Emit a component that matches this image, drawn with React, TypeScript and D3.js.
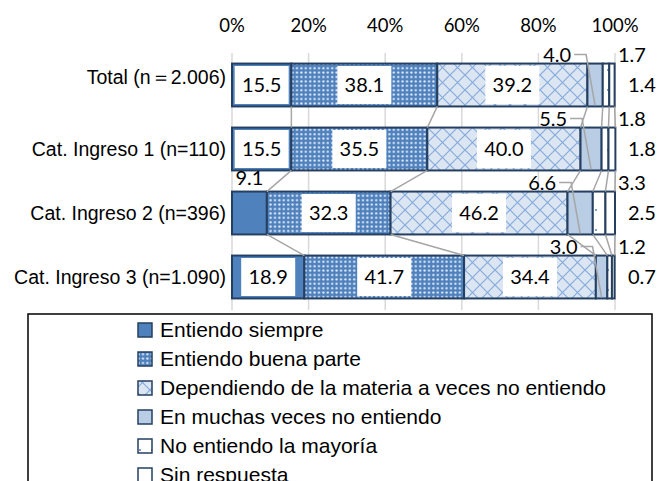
import React from 'react';
import * as d3 from 'd3';

const categories = [
  'Total (n＝2.006)',
  'Cat. Ingreso 1 (n=110)',
  'Cat. Ingreso 2 (n=396)',
  'Cat. Ingreso 3 (n=1.090)',
];

const seriesNames = [
  'Entiendo siempre',
  'Entiendo buena parte',
  'Dependiendo de la materia a veces no entiendo',
  'En muchas veces no entiendo',
  'No entiendo la mayoría',
  'Sin respuesta',
];

const siempre = [15.5, 15.5, 9.1, 18.9];
const buenaParte = [38.1, 35.5, 32.3, 41.7];
const dependiendo = [39.2, 40.0, 46.2, 34.4];
const muchasVeces = [4.0, 5.5, 6.6, 3.0];
const mayoria = [1.7, 1.8, 3.3, 1.2];
const sinRespuesta = [1.4, 1.8, 2.5, 0.7];

const xTicks = [0, 20, 40, 60, 80, 100];

const W = 657;
const H = 481;
const fills = ['#4f81bd', 'url(#pDots)', 'url(#pCross)', '#b9cde5', 'url(#pSparse)', '#ffffff'];
const border = '#243f60';
const valueFont = 'Lato, "Open Sans", sans-serif';
const textFont = '"Liberation Sans", Arial, sans-serif';

export default function App() {
  const allSeries = [siempre, buenaParte, dependiendo, muchasVeces, mayoria, sinRespuesta];
  const rows = categories.map((c, i) => {
    const r: any = { cat: c };
    seriesNames.forEach((s, k) => (r[s] = allSeries[k][i]));
    return r;
  });
  const stacked = d3.stack().keys(seriesNames)(rows);

  const x = d3.scaleLinear().domain([0, 100]).range([232, 615]);
  const y = d3
    .scaleBand()
    .domain(categories)
    .range([53, 309])
    .paddingInner(0.33)
    .paddingOuter(0.165);
  const bw = y.bandwidth();

  // series lines between neighbouring bars
  const seriesLines: { x1: number; y1: number; x2: number; y2: number }[] = [];
  for (let i = 0; i < categories.length - 1; i++) {
    stacked.forEach((layer) => {
      seriesLines.push({
        x1: x(layer[i][1]),
        y1: (y(categories[i]) as number) + bw,
        x2: x(layer[i + 1][1]),
        y2: y(categories[i + 1]) as number,
      });
    });
  }

  return (
    <svg
      width={W}
      height={H}
      style={{ position: 'absolute', left: 0, top: 0, background: '#fff' }}
    >
      <defs>
        <pattern id="pDots" width={4.4} height={4.4} patternUnits="userSpaceOnUse">
          <rect width={4.4} height={4.4} fill="#4f81bd" />
          <circle cx={2.2} cy={2.2} r={1.15} fill="#e6eef9" />
        </pattern>
        <pattern id="pCross" width={15} height={15} patternUnits="userSpaceOnUse">
          <rect width={15} height={15} fill="#dce6f2" />
          <path d="M0,0L15,15M15,0L0,15" stroke="#86abdc" strokeWidth={1.2} />
        </pattern>
        <pattern id="pSparse" width={12} height={20} patternUnits="userSpaceOnUse">
          <rect width={12} height={20} fill="#ffffff" />
          <circle cx={8} cy={10} r={1} fill="#4f81bd" />
        </pattern>
      </defs>

      {/* axis labels and gridlines */}
      {xTicks.map((t) => (
        <g key={t}>
          <line x1={x(t)} x2={x(t)} y1={53} y2={310} stroke="#d9d9d9" strokeWidth={1.5} />
          <text
            x={x(t)}
            y={32}
            textAnchor="middle"
            fontFamily={valueFont}
            fontSize={18.5}
            fill="#000"
          >
            {t}%
          </text>
        </g>
      ))}

      {/* category labels */}
      {categories.map((c, i) => (
        <text
          key={c}
          x={226}
          y={(y(c) as number) + bw / 2 + (i === 0 ? -8 : 0)}
          dy="0.35em"
          textAnchor="end"
          fontFamily={textFont}
          fontSize={19.5}
          fill="#000"
        >
          {c}
        </text>
      ))}

      {/* bars */}
      {stacked.map((layer, k) => (
        <g key={layer.key}>
          {layer.map((d, i) => (
            <rect
              key={i}
              x={x(d[0])}
              y={y(categories[i])}
              width={x(d[1]) - x(d[0])}
              height={bw}
              fill={fills[k]}
              stroke={border}
              strokeWidth={2}
            />
          ))}
        </g>
      ))}

      {/* series lines */}
      {seriesLines.map((l, i) => (
        <line key={i} {...l} stroke="#a6a6a6" strokeWidth={1.5} />
      ))}

      {/* data labels */}
      {stacked.map((layer, k) =>
        layer.map((d, i) => {
          const v = allSeries[k][i];
          const top = y(categories[i]) as number;
          const cx = (x(d[0]) + x(d[1])) / 2;
          const cy = top + bw / 2;
          const txt = v.toFixed(1);
          if (k <= 2 && v >= 10) {
            return (
              <g key={`${k}-${i}`}>
                <rect x={cx - 27} y={cy - 19} width={54} height={38} fill="#fff" />
                <text
                  x={cx}
                  y={cy}
                  dy="0.36em"
                  textAnchor="middle"
                  fontFamily={valueFont}
                  fontSize={20}
                  fill="#000"
                >
                  {txt}
                </text>
              </g>
            );
          }
          if (k <= 2) {
            return (
              <text
                key={`${k}-${i}`}
                x={cx}
                y={top - 14}
                dy="0.36em"
                textAnchor="middle"
                fontFamily={valueFont}
                fontSize={20}
                fill="#000"
              >
                {txt}
              </text>
            );
          }
          if (k === 3) {
            const lx = cx - 24;
            const ly = top - 9;
            return (
              <g key={`${k}-${i}`}>
                <path
                  d={`M${lx + 3},${ly}L${lx + 15},${ly}L${cx},${top + bw - 1}`}
                  fill="none"
                  stroke="#a6a6a6"
                  strokeWidth={1.5}
                />
                <text
                  x={lx}
                  y={ly}
                  dy="0.36em"
                  textAnchor="end"
                  fontFamily={valueFont}
                  fontSize={20}
                  fill="#000"
                >
                  {txt}
                </text>
              </g>
            );
          }
          return (
            <text
              key={`${k}-${i}`}
              x={k === 4 ? x(100) + 3 : x(100) + 13}
              y={k === 4 ? top - 9 : cy}
              dy="0.36em"
              textAnchor="start"
              fontFamily={valueFont}
              fontSize={20}
              fill="#000"
            >
              {txt}
            </text>
          );
        })
      )}

      {/* legend */}
      <rect x={28} y={314} width={624} height={200} fill="#fff" stroke="#000" strokeWidth={1.5} />
      {seriesNames.map((s, k) => {
        const ly = 330 + k * 29;
        return (
          <g key={s}>
            <rect
              x={138}
              y={ly - 7}
              width={14}
              height={14}
              fill={fills[k]}
              stroke={border}
              strokeWidth={1.5}
            />
            <text
              x={160}
              y={ly}
              dy="0.35em"
              fontFamily={textFont}
              fontSize={21}
              fill="#000"
            >
              {s}
            </text>
          </g>
        );
      })}
    </svg>
  );
}
